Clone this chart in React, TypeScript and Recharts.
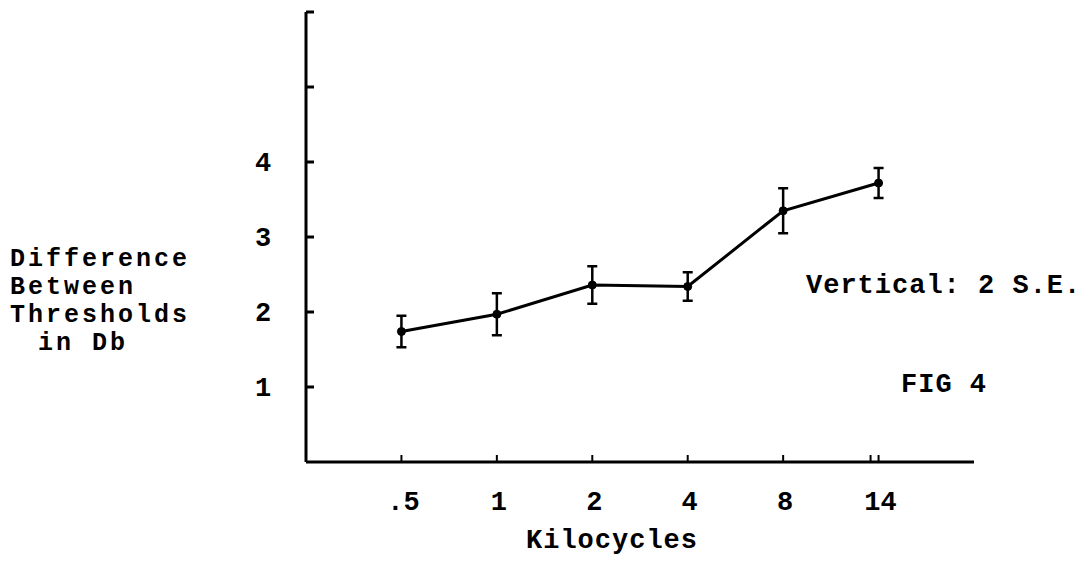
import React from 'react';
import { LineChart, Line, XAxis, YAxis, ErrorBar } from 'recharts';

// frequencies in kilocycles (evenly spaced on the chart)
const categories = ['.5', '1', '2', '4', '8', '14'];
const thresholdDiff = [1.74, 1.97, 2.36, 2.34, 3.35, 3.72];
const twoSE = [0.21, 0.28, 0.25, 0.19, 0.3, 0.2];
const yTicks = [1, 2, 3, 4, 5, 6];
const yLabels = [1, 2, 3, 4];

const data = categories.map((c, i) => ({
  pos: i + 1,
  name: c,
  value: thresholdDiff[i],
  err: twoSE[i]
}));

const font = "'Liberation Mono', 'Courier New', monospace";

const YTick = (props: any) => {
  const { x, y, payload } = props;
  return (
    <g>
      <line x1={x} x2={x + 8} y1={y} y2={y} stroke="#000" strokeWidth={3} />
      {yLabels.includes(payload.value) && (
        <text x={x - 43} y={y + 9} textAnchor="middle" fontFamily={font} fontWeight="bold" fontSize={27} fill="#000">
          {payload.value}
        </text>
      )}
    </g>
  );
};

const XTick = (props: any) => {
  const { x, y, payload } = props;
  const label = categories[payload.value - 1];
  if (!label) return null;
  return (
    <g>
      <line x1={x} x2={x} y1={y} y2={y - 7} stroke="#000" strokeWidth={2} />
      {label === '14' && <line x1={x - 8} x2={x - 8} y1={y} y2={y - 7} stroke="#000" strokeWidth={2} />}
      <text x={x + 2} y={y + 48} textAnchor="middle" fontFamily={font} fontWeight="bold" fontSize={27} fill="#000">
        {label}
      </text>
    </g>
  );
};

const App = () => {
  return (
    <div style={{ position: 'absolute', left: 0, top: 0, width: 1090, height: 561, background: '#fff' }}>
      <LineChart width={1090} height={561} data={data} margin={{ top: 12, right: 116, bottom: 39, left: 246 }}>
        <XAxis
          type="number"
          dataKey="pos"
          domain={[0, 7]}
          ticks={[1, 2, 3, 4, 5, 6]}
          height={60}
          tickLine={false}
          tickMargin={0}
          tickSize={0}
          tick={<XTick />}
          axisLine={{ stroke: '#000', strokeWidth: 3 }}
        />
        <YAxis
          type="number"
          domain={[0, 6]}
          ticks={yTicks}
          width={60}
          tickLine={false}
          tickMargin={0}
          tickSize={0}
          tick={<YTick />}
          axisLine={{ stroke: '#000', strokeWidth: 3 }}
        />
        <Line
          type="linear"
          dataKey="value"
          stroke="#000"
          strokeWidth={3}
          dot={{ r: 4, fill: '#000', stroke: '#000', strokeWidth: 1 }}
          isAnimationActive={false}
        >
          <ErrorBar dataKey="err" direction="y" width={5} stroke="#000" strokeWidth={2.5} isAnimationActive={false} />
        </Line>
      </LineChart>
      <svg width={1090} height={561} style={{ position: 'absolute', left: 0, top: 0, pointerEvents: 'none' }}>
        <g fontFamily={font} fontWeight="bold" fill="#000" fontSize={27} letterSpacing={1}>
          <text x={10} y={266} fontSize={25} letterSpacing={3}>Difference</text>
          <text x={10} y={294} fontSize={25} letterSpacing={3}>Between</text>
          <text x={10} y={322} fontSize={25} letterSpacing={3}>Thresholds</text>
          <text x={38} y={350} fontSize={25} letterSpacing={3}>in Db</text>
          <text x={806} y={293}>Vertical: 2 S.E.</text>
          <text x={901} y={392}>FIG 4</text>
          <text x={526} y={548}>Kilocycles</text>
        </g>
      </svg>
    </div>
  );
};

export default App;
